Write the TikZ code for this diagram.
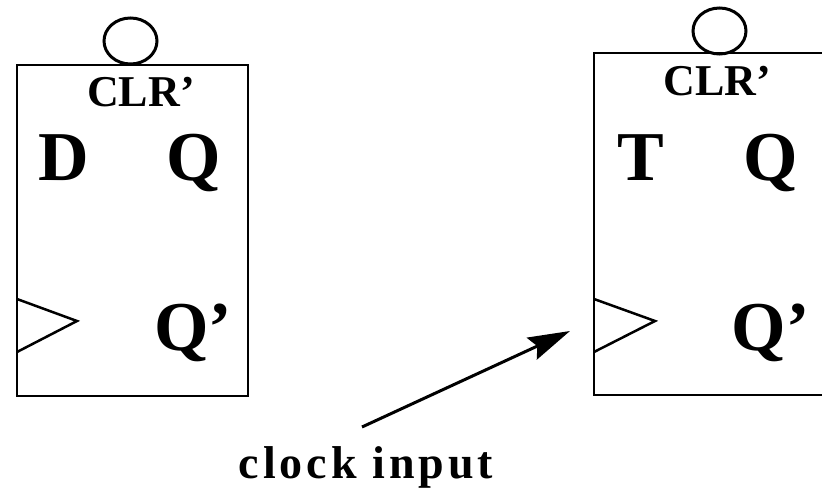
\documentclass[tikz,border=0pt]{standalone}
\usetikzlibrary{arrows.meta,shapes.geometric}
\usepackage{fontspec}
\setmainfont{Liberation Serif}
\begin{document}
\begin{tikzpicture}[x=1pt,y=-1pt,line width=2.5pt]
    % --- styles ---
    \tikzset{ffbox/.style={draw, black, line width=2pt, minimum width=231.5pt, anchor=north west, inner sep=0pt, outer sep=0pt},
      bubble/.style={draw, black, ellipse, line width=3pt, minimum width=53pt, minimum height=46pt, inner sep=0pt},
      biglabel/.style={font=\bfseries\fontsize{70}{70}\selectfont, inner sep=0pt, anchor=base},
      clrlabel/.style={font=\bfseries\fontsize{44}{44}\selectfont, inner sep=0pt, anchor=base},
      clocklabel/.style={font=\bfseries\fontsize{46}{46}\selectfont\addfontfeature{LetterSpace=8.7}, inner sep=0pt, anchor=base}}
    \useasboundingbox (0,0) rectangle (822,488);

    % left flip-flop
    \node[bubble] (clra) at (130.5,41) {};
    \node[ffbox, minimum height=331pt] (ffa) at (16.5,64.5) {};
    \node[clrlabel] (clrtexta) at (141,106) {CLR'};
    \node[biglabel] (da) at (64,180) {D};
    \node[biglabel] (qa) at (194,180) {Q};
    \node[biglabel] (qpa) at (193,350) {Q'};
    \draw (17,299) -- (77,321) -- (17,352);

    % right flip-flop
    \node[bubble] (clrb) at (719.5,31) {};
    \node[ffbox, minimum height=342pt] (ffb) at (594,53) {};
    \node[clrlabel] (clrtextb) at (717.5,95) {CLR'};
    \node[biglabel] (tb) at (641,180) {T};
    \node[biglabel] (qb) at (770.5,180) {Q};
    \node[biglabel] (qpb) at (770.5,350) {Q'};
    \draw (594,299) -- (655,321) -- (594,352);

    % clock label with arrow
    \node[clocklabel] (clk) at (366,478) {clock input};
    \coordinate (clkend) at (570,331);
    \coordinate (clkstart) at (362,427);
    \draw[line width=3pt, -{Stealth[length=42pt,width=24pt,inset=6pt]}] (clkstart) -- (clkend);
\end{tikzpicture}
\end{document}
